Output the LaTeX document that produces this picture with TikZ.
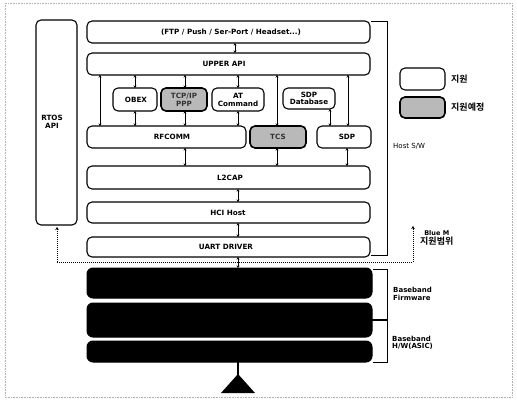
\documentclass[tikz,border=0pt]{standalone}
\usepackage{fontspec}
\setmainfont{DejaVu Sans}
\newfontfamily\kr{Noto Sans CJK KR}[BoldFont={Noto Sans CJK KR Bold}]
\usetikzlibrary{arrows.meta}
\begin{document}
\begin{tikzpicture}[x=1pt,y=-1pt,
  font=\bfseries\fontsize{7.2}{7.6}\selectfont,
  lay/.style={draw,line width=1.1pt,rounded corners=5pt,fill=white},
  shaded/.style={draw,line width=1.6pt,rounded corners=5pt,fill=gray!55},
  darkbox/.style={draw,line width=1pt,rounded corners=6pt,fill=black},
  dbl/.style={{Stealth[length=2.6pt,width=3pt]}-{Stealth[length=2.6pt,width=3pt]},line width=0.9pt},
  dotln/.style={densely dotted,line width=1pt},
  lbl/.style={inner sep=0pt,align=left,anchor=west},
  side/.style={lbl,font=\fontsize{7}{7.6}\selectfont\bfseries}]
\useasboundingbox (0,0) rectangle (517,401);
\draw[gray!60,densely dotted,line width=0.6pt] (5,3) rectangle (512,397);
% RTOS
\draw[lay] (36,20) rectangle (77,225);
\node (rtos) at (52,122) [align=center] {RTOS\\API};
% layers
\draw[lay] (87,21) rectangle (370,43);
\node (app) at (231,32) {(FTP / Push / Ser-Port / Headset...)};
\draw[lay] (87,53) rectangle (370,75);
\node (upper) at (224,64) {UPPER API};
\draw[lay] (113,88) rectangle (157,111);
\node (obex) at (136,100) {OBEX};
\draw[shaded] (161,88) rectangle (207,111);
\node (tcpip) at (184,100) [align=center,text=black!80] {TCP/IP\\PPP};
\draw[lay] (212,88) rectangle (264,111);
\node (at) at (238,100) [align=center] {AT\\Command};
\draw[lay] (283,88) rectangle (335,109);
\node (sdpdb) at (309,98.5) [align=center] {SDP\\Database};
\draw[lay] (87,126) rectangle (246,148);
\node (rfcomm) at (172,137) {RFCOMM};
\draw[shaded] (250,126) rectangle (306,148);
\node (tcs) at (278,137) [text=black!80] {TCS};
\draw[lay] (317,126) rectangle (371,148);
\node (sdp) at (347,137) {SDP};
\draw[lay] (87,166) rectangle (370,189);
\node (l2cap) at (230,177.5) {L2CAP};
\draw[lay] (87,202) rectangle (370,223);
\node (hci) at (228,212.5) {HCI Host};
\draw[lay] (87,237) rectangle (370,257);
\node (uart) at (226,247) {UART DRIVER};
% baseband blocks
\draw[darkbox] (87,268) rectangle (372,298);
\draw[darkbox] (87,303) rectangle (372,337);
\draw[darkbox] (87,341) rectangle (372,362);
% connectors
\draw[dbl] (235,43) -- (235,53);
\draw[dbl] (135,75) -- (135,88);
\draw[dbl] (185,75) -- (185,88);
\draw[dbl] (238,75) -- (238,88);
\draw[dbl] (135,111) -- (135,126);
\draw[dbl] (185,111) -- (185,126);
\draw[dbl] (238,111) -- (238,126);
\draw[dbl] (100,75) -- (100,126);
\draw[dbl] (277,75) -- (277,126);
\draw[dbl] (348,75) -- (348,126);
\draw[dbl] (330,109) -- (330,126);
\draw[dbl] (185,148) -- (185,166);
\draw[dbl] (277,148) -- (277,166);
\draw[dbl] (347,148) -- (347,166);
\draw[dbl] (238,189) -- (238,202);
\draw[dbl] (238,223) -- (238,237);
\draw[dbl] (238,257) -- (238,268);
% dotted range line
\coordinate (dl) at (57,262);
\coordinate (dr) at (413,262);
\draw[dotln,-{Stealth[length=3pt,width=3.5pt]}] (dl) -- (57,227);
\draw[dotln] (dl) -- (dr);
\draw[dotln,-{Stealth[length=3pt,width=3.5pt]}] (dr) -- (413,226);
\node (bluem) at (420,238) [lbl,align=center] {{\fontsize{6.5}{7}\selectfont Blue M}\\{\kr\bfseries\fontsize{9}{9.5}\selectfont 지원범위}};
% Host S/W bracket
\draw[line width=1pt] (371,22) -- (387,22) -- (387,255) -- (371,255);
\node (host) at (393,146) [side,font=\fontsize{7}{7.6}\selectfont] {Host S/W};
% baseband bracket
\draw[line width=1pt] (373,269) -- (387,269) -- (387,362) -- (373,362);
\draw[line width=1.4pt] (372,320) -- (387,320);
\node (bbfw) at (393,294) [side] {Baseband\\Firmware};
\node (bbhw) at (392,343) [side] {Baseband\\H/W(ASIC)};
% bottom triangle
\draw[line width=1.2pt] (238,362) -- (238,377);
\fill (238,374) -- (255,393) -- (221,393) -- cycle;
% legend
\draw[lay] (400,68) rectangle (445,90);
\node (lg1) at (451,79) [lbl] {\kr\bfseries\fontsize{9}{10}\selectfont 지원};
\draw[shaded] (400,97) rectangle (445,118);
\node (lg2) at (451,107.5) [lbl] {\kr\bfseries\fontsize{9}{10}\selectfont 지원예정};
\end{tikzpicture}
\end{document}
